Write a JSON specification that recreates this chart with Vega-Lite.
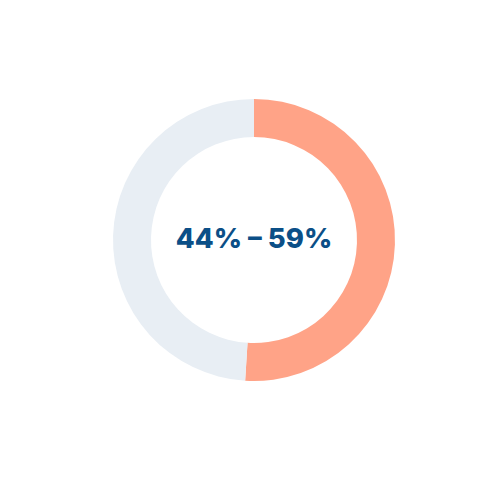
{
  "$schema": "https://vega.github.io/schema/vega-lite/v6.json",
  "width": 492,
  "height": 480,
  "padding": {"left": 8, "top": 0, "right": 0, "bottom": 20},
  "background": "#ffffff",
  "view": {"stroke": null},
  "layer": [
    {
      "data": {
        "values": [
          {"part": "share", "value": 51, "order": 1},
          {"part": "rest", "value": 49, "order": 2}
        ]
      },
      "mark": {"type": "arc", "outerRadius": 141, "innerRadius": 103},
      "encoding": {
        "theta": {"field": "value", "type": "quantitative", "stack": true},
        "order": {"field": "order", "type": "quantitative"},
        "color": {
          "field": "part",
          "type": "nominal",
          "scale": {"domain": ["share", "rest"], "range": ["#FFA387", "#E8EEF4"]},
          "legend": null
        }
      }
    },
    {
      "data": {"values": [{"label": "44% – 59%"}]},
      "mark": {
        "type": "text",
        "font": "Inter",
        "fontWeight": 800,
        "fontSize": 27.5,
        "color": "#0B4F87",
        "align": "center",
        "baseline": "middle"
      },
      "encoding": {"text": {"field": "label"}}
    }
  ]
}
